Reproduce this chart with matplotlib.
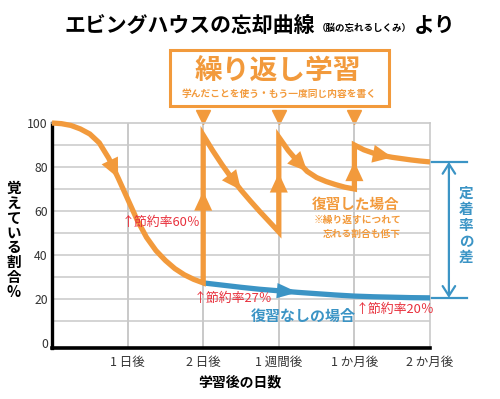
import matplotlib
matplotlib.use("Agg")
import matplotlib.pyplot as plt
from matplotlib.patches import Rectangle

plt.rcParams['font.family'] = ['Noto Sans CJK JP', 'DejaVu Sans']

W, H = 500, 399
ORANGE = '#f29a3c'
BLUE = '#3b94c5'
RED = '#e8303c'
GRID = '#c9c9c9'

# axis data
x_ticks = [1, 2, 3, 4, 5]
x_labels = ['1 日後', '2 日後', '1 週間後', '1 か月後', '2 か月後']
y_ticks = [0, 20, 40, 60, 80, 100]
y_minor = [10, 30, 50, 70, 90]

# 復習した場合 (orange)
seg1_x = [0, 0.125, 0.25, 0.375, 0.5, 0.625, 0.75, 0.875, 1.0, 1.125, 1.25, 1.375, 1.5, 1.625, 1.75, 1.875, 2.0]
seg1_y = [100, 99.7, 98.9, 97.3, 95, 91, 84, 75, 65.5, 56, 48, 42, 37.5, 33.8, 31, 28.9, 27.3]
seg2_x = [2.0, 2.125, 2.25, 2.375, 2.5, 2.625, 2.75, 2.875, 3.0]
seg2_y = [94.5, 87.5, 81, 75, 69.5, 64.5, 59.7, 55.1, 50.5]
seg3_x = [3.0, 3.125, 3.25, 3.375, 3.5, 3.625, 3.75, 3.875, 4.0]
seg3_y = [93.6, 87.5, 82.5, 78, 75.2, 73.4, 72, 70.8, 70]
seg4_x = [4.0, 4.125, 4.25, 4.375, 4.5, 4.625, 4.75, 4.875, 5.0]
seg4_y = [90, 87.8, 86.3, 85.2, 84.4, 83.8, 83.2, 82.7, 82.3]
review_x = [2, 3, 4]

# 復習なしの場合 (blue)
plain_x = [2.0, 2.25, 2.5, 2.75, 3.0, 3.25, 3.5, 3.75, 4.0, 4.25, 4.5, 4.75, 5.0]
plain_y = [27.3, 26.3, 25.3, 24.4, 23.7, 23.0, 22.4, 21.8, 21.3, 21.0, 20.8, 20.6, 20.5]


def fx(x):
    return x / W


def fy(y):
    return 1 - y / H


def head(ax, xs, ys, i, color, length=14, width=6.5):
    # arrow head pointing from point i to point i+1
    ax.annotate('', xy=(xs[i + 1], ys[i + 1]), xytext=(xs[i], ys[i]),
                arrowprops=dict(arrowstyle=f'-|>,head_length={length},head_width={width}',
                                mutation_scale=1, color=color, lw=0,
                                shrinkA=0, shrinkB=0), annotation_clip=False)


fig = plt.figure(figsize=(W / 100, H / 100), dpi=100)
ax = fig.add_axes([fx(52), fy(348), 378 / W, 225 / H])
ax.set_xlim(0, 5)
ax.set_ylim(-2.3, 100)

ax.set_xticks(x_ticks)
ax.set_xticklabels(x_labels)
ax.set_yticks(y_ticks)
ax.set_yticks(y_minor, minor=True)
ax.tick_params(axis='both', which='both', length=0, labelcolor='#333333')
ax.tick_params(axis='x', pad=6, labelsize=9)
ax.tick_params(axis='y', pad=3, labelsize=8.8)
for v in y_ticks[1:-1] + y_minor:
    ax.axhline(v, color=GRID, lw=1.1, zorder=0)
for v in x_ticks[:-1]:
    ax.axvline(v, color=GRID, lw=1.4, zorder=0)

for s in ['top', 'right']:
    ax.spines[s].set_color(GRID)
    ax.spines[s].set_linewidth(1.2)
ax.spines['left'].set_linewidth(2.4)
ax.spines['bottom'].set_linewidth(2.6)
ax.spines['left'].set_color('black')
ax.spines['bottom'].set_color('black')

# curves
ax.plot(plain_x, plain_y, color=BLUE, lw=3.8, solid_capstyle='butt', zorder=3, clip_on=False)
orange_x = seg1_x + seg2_x + seg3_x + seg4_x
orange_y = seg1_y + seg2_y + seg3_y + seg4_y
ax.plot(orange_x, orange_y, color=ORANGE, lw=3.8, solid_joinstyle='miter',
        solid_capstyle='butt', zorder=4, clip_on=False)

# arrow heads along the curves
head(ax, seg1_x, seg1_y, 6, ORANGE)
head(ax, seg2_x, seg2_y, 3, ORANGE)
head(ax, seg3_x, seg3_y, 2, ORANGE)
head(ax, seg4_x, seg4_y, 3, ORANGE)
head(ax, plain_x, plain_y, 4, BLUE, length=15, width=5.5)
ends = [seg1_y[-1], seg2_y[-1], seg3_y[-1]]
tops = [seg2_y[0], seg3_y[0], seg4_y[0]]
for xr, lo, hi in zip(review_x, ends, tops):
    ax.annotate('', xy=(xr, lo + 0.62 * (hi - lo)), xytext=(xr, lo + 0.4 * (hi - lo)),
                arrowprops=dict(arrowstyle='-|>,head_length=14,head_width=6.5',
                                mutation_scale=1, color=ORANGE, lw=0, shrinkA=0, shrinkB=0))

# review markers above the plot
ax.plot(review_x, [1.027] * len(review_x), 'v', color=ORANGE, markersize=9.5,
        transform=ax.get_xaxis_transform(), clip_on=False)

# 定着率の差 bracket
top_v, bot_v = seg4_y[-1], plain_y[-1]
for v in [top_v, bot_v]:
    ax.plot([5, 5.49], [v, v], color=BLUE, lw=1.6, clip_on=False, zorder=2)
ax.annotate('', xy=(5.25, top_v), xytext=(5.25, bot_v),
            arrowprops=dict(arrowstyle='<->,head_length=0.7,head_width=0.45', color=BLUE,
                            lw=1.6, shrinkA=0, shrinkB=0, mutation_scale=10),
            annotation_clip=False)
for i, ch in enumerate('定着率の差'):
    fig.text(fx(466), fy(193 + i * 16), ch, color=BLUE, fontsize=10.5, fontweight='bold',
             ha='center', va='center')

# title
fig.text(fx(64), fy(32), 'エビングハウスの忘却曲線', fontsize=15, fontweight='bold',
         ha='left', va='baseline')
fig.text(fx(317), fy(31), '（脳の忘れるしくみ）', fontsize=6.8, fontweight='bold',
         ha='left', va='baseline')
fig.text(fx(414), fy(32), 'より', fontsize=15, fontweight='bold', ha='left', va='baseline')

# 繰り返し学習 box
fig.patches.append(Rectangle((fx(170), fy(106)), 219 / W, 56 / H, transform=fig.transFigure,
                             facecolor='white', edgecolor=ORANGE, lw=2.2))
fig.text(fx(278), fy(72), '繰り返し学習', color=ORANGE, fontsize=20, fontweight='bold',
         ha='center', va='center')
fig.text(fx(279), fy(94), '学んだことを使う・もう一度同じ内容を書く', color=ORANGE,
         fontsize=7, fontweight='bold', ha='center', va='center')

# annotations
fig.text(fx(122), fy(222), '↑節約率60％', color=RED, fontsize=9.3, ha='left', va='center')
fig.text(fx(194), fy(298), '↑節約率27％', color=RED, fontsize=9.3, ha='left', va='center')
fig.text(fx(356), fy(309), '↑節約率20％', color=RED, fontsize=9.3, ha='left', va='center')
fig.text(fx(356), fy(204), '復習した場合', color=ORANGE, fontsize=10.5, fontweight='bold',
         ha='center', va='center')
fig.text(fx(401), fy(220), '※繰り返すにつれて', color=ORANGE, fontsize=7, fontweight='bold',
         ha='right', va='center')
fig.text(fx(401), fy(234), '忘れる割合も低下', color=ORANGE, fontsize=7, fontweight='bold',
         ha='right', va='center')
fig.text(fx(303), fy(316), '復習なしの場合', color=BLUE, fontsize=10.8, fontweight='bold',
         ha='center', va='center')

# axis labels
fig.text(fx(240), fy(383), '学習後の日数', fontsize=10, fontweight='bold', ha='center', va='center')
for i, ch in enumerate('覚えている割合%'):
    fig.text(fx(14), fy(188 + i * 14.8), ch, fontsize=10.5, fontweight='bold',
             ha='center', va='center')

fig.savefig('out.png', dpi=100)
